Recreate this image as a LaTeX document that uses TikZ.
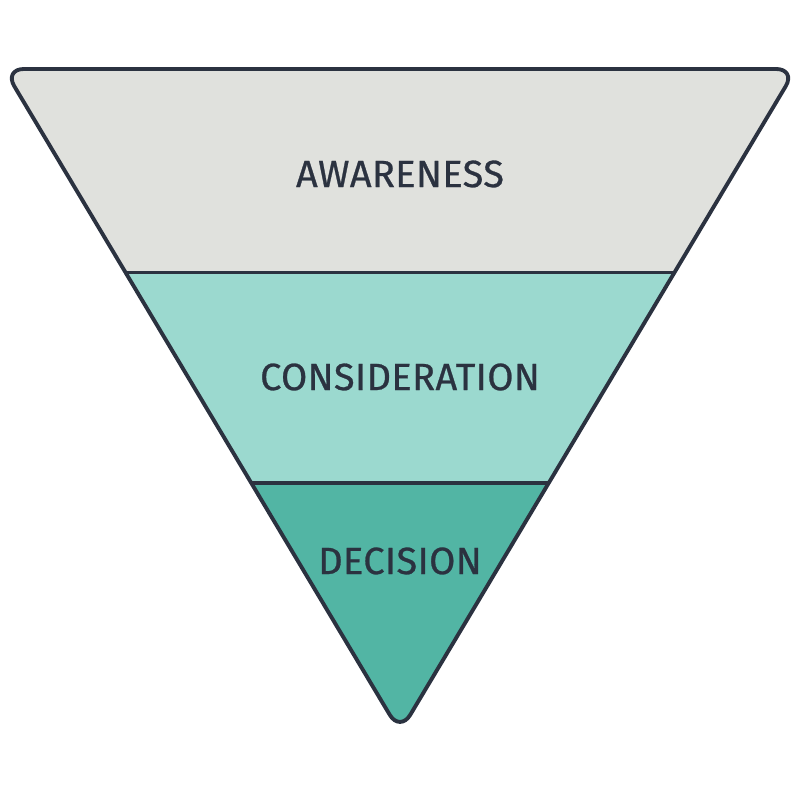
\documentclass[tikz,border=0pt]{standalone}
\usepackage{fontspec}
\setmainfont{Fira Sans}
\usetikzlibrary{calc}
\definecolor{funnelgrey}{HTML}{E0E1DD}
\definecolor{funnelmint}{HTML}{9BD9CF}
\definecolor{funnelteal}{HTML}{52B5A4}
\definecolor{funnelink}{HTML}{2B3240}
\tikzset{
  stage/.style={text=funnelink,font=\fontsize{10.8}{12}\selectfont\addfontfeature{LetterSpace=1,FakeBold=0.7}},
  edge/.style={draw=funnelink,line width=1.1pt,line join=round}
}
\begin{document}
\begin{tikzpicture}
    \useasboundingbox (0,0) rectangle (8,8);
    \coordinate (tl) at (0.04,7.31);
    \coordinate (tr) at (7.96,7.31);
    \coordinate (ap) at (4.00,0.68);
    \coordinate (al) at ($(tl)!0.307!(ap)$);
    \coordinate (ar) at ($(tr)!0.307!(ap)$);
    \coordinate (cl) at ($(tl)!0.624!(ap)$);
    \coordinate (cr) at ($(tr)!0.624!(ap)$);
    % bands
    \begin{scope}
    \clip[rounded corners=0.2cm] (tl) -- (tr) -- (ap) -- cycle;
    \fill[funnelgrey] (0,7.4) rectangle (8,5.28);
    \fill[funnelmint] (0,5.28) rectangle (8,3.18);
    \fill[funnelteal] (0,3.18) rectangle (8,0.5);
    \end{scope}
    \draw[edge,rounded corners=0.2cm] (tl) -- (tr) -- (ap) -- cycle;
    \draw[edge] (al) -- (ar);
    \draw[edge] (cl) -- (cr);
    % labels
    \node[stage] (aw) at (4,6.26) {AWARENESS};
    \node[stage] (co) at (4,4.23) {CONSIDERATION};
    \node[stage] (de) at (4,2.39) {DECISION};
\end{tikzpicture}
\end{document}
